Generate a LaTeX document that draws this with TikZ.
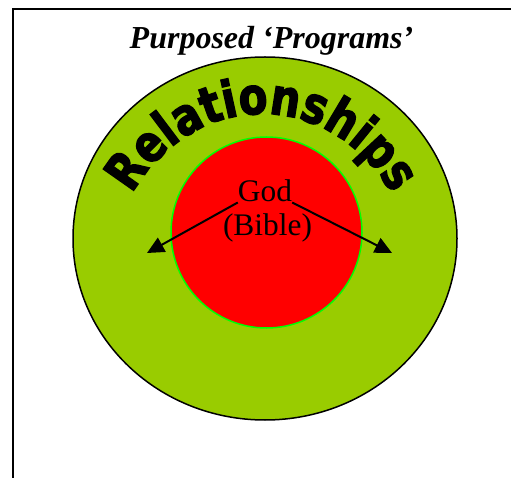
\documentclass[tikz,border=0pt]{standalone}
\usepackage{fontspec}
\setmainfont{Liberation Serif}
\newfontfamily\archfont[FakeBold=2.5,FakeStretch=0.82]{DejaVu Sans Bold}
\usetikzlibrary{arrows.meta,decorations.text}
\definecolor{leafgreen}{HTML}{99CC00}
\definecolor{brightgreen}{HTML}{00FF00}

\begin{document}
\begin{tikzpicture}[x=1pt,y=1pt,
  ring/.style={draw=black,line width=1.5pt,fill=leafgreen},
  core/.style={draw=brightgreen,line width=1.5pt,fill=red},
  word/.style={font=\fontsize{31.4}{34}\selectfont,inner sep=0pt,anchor=base},
  pointer/.style={line width=2pt,-{Triangle[length=17pt,width=16pt]}}]
\useasboundingbox (0,0) rectangle (511,477);
\draw[line width=2pt] (13,-10) -- (13,468) -- (530,468);
\node[font=\bfseries\itshape\fontsize{32}{36}\selectfont,anchor=base] (title) at (271.5,428) {Purposed ‘Programs’};

\begin{scope}
\path[ring] (265,238.5) ellipse [x radius=192,y radius=181.5];
\path[core] (266.5,244.5) circle [radius=95.5];
\end{scope}

\begin{scope}[shift={(262,187)}]
\path[decorate,decoration={text along path,text align=center,
  text={|\archfont\fontsize{51}{51}\selectfont|Relationships}}]
  (170:155 and 176) arc [start angle=170,end angle=10,x radius=155,y radius=176];
\end{scope}

\node[word] (god) at (265,275) {God};
\node[word] (bible) at (267.5,241) {(Bible)};
\coordinate (lefttip) at (147,224);
\coordinate (righttip) at (392,224);
\draw[pointer] (god.south west) -- (lefttip);
\draw[pointer] (god.south east) -- (righttip);
\end{tikzpicture}
\end{document}
